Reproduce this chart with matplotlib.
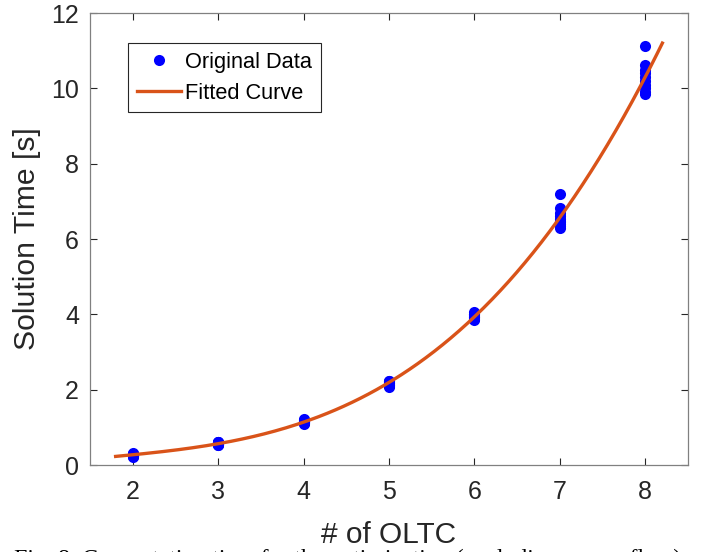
import numpy as np
import matplotlib
matplotlib.use("Agg")
import matplotlib.pyplot as plt


# number of OLTC units in each test case
n_oltc = [2, 3, 4, 5, 6, 7, 8]

# solution times of the repeated runs [s], one list per case
times_2 = [0.22, 0.25, 0.27, 0.30, 0.32, 0.24, 0.28, 0.26, 0.29, 0.23]
times_3 = [0.53, 0.55, 0.57, 0.60, 0.62, 0.56, 0.58, 0.54, 0.59, 0.61]
times_4 = [1.10, 1.13, 1.15, 1.18, 1.22, 1.12, 1.16, 1.20, 1.14, 1.11]
times_5 = [2.08, 2.12, 2.15, 2.20, 2.24, 2.10, 2.17, 2.13, 2.22, 2.18]
times_6 = [3.85, 3.90, 3.95, 4.00, 4.05, 3.88, 3.92, 3.97, 4.02, 3.93]
times_7 = [7.19, 6.82, 6.70, 6.60, 6.52, 6.45, 6.40, 6.35, 6.30, 6.48]
times_8 = [11.13, 10.62, 10.50, 10.40, 10.30, 10.20, 10.10, 10.00, 9.90, 9.84]

# range of the fitted curve
fit_range = (1.8, 8.2)

caption = "Fig. 8. Computation time for the optimization (excluding power flow)."


def main():
    plt.rcParams['font.family'] = ['Liberation Sans', 'DejaVu Sans']
    all_times = [times_2, times_3, times_4, times_5, times_6, times_7, times_8]

    x_data = np.concatenate([[n] * len(t) for n, t in zip(n_oltc, all_times)])
    y_data = np.concatenate(all_times)

    # cubic least squares fit through all runs
    coeffs = np.polyfit(x_data, y_data, 3)
    x_fit = np.linspace(fit_range[0], fit_range[1], 200)
    y_fit = np.polyval(coeffs, x_fit)

    fig = plt.figure(figsize=(7.12, 5.52), dpi=100)
    ax = fig.add_axes([0.1264, 0.1576, 0.8399, 0.8188])

    ax.plot(x_data, y_data, 'o', color='#0000ff', markersize=8,
            markeredgewidth=0, label='Original Data', zorder=2)
    ax.plot(x_fit, y_fit, '-', color='#d95319', linewidth=2.4,
            label='Fitted Curve', zorder=3)

    ax.set_xlim(1.5, 8.5)
    ax.set_ylim(0, 12)
    ax.set_xticks(n_oltc)
    ax.set_yticks([0, 2, 4, 6, 8, 10, 12])

    for side in ['left', 'right', 'top', 'bottom']:
        ax.spines[side].set_color('#808080')
        ax.spines[side].set_linewidth(0.9)
    ax.tick_params(direction='in', top=True, right=True, length=5, width=0.8,
                   color='#262626', labelcolor='#262626', labelsize=18)
    ax.tick_params(axis='x', pad=11)
    ax.tick_params(axis='y', pad=8)

    ax.set_xlabel('# of OLTC', fontsize=21.5, color='#262626', labelpad=12)
    ax.set_ylabel('Solution Time [s]', fontsize=21.7, color='#262626', labelpad=7)

    leg = ax.legend(loc='upper left', bbox_to_anchor=(0.064, 0.934), borderaxespad=0,
                    fontsize=15.7, handlelength=2.0, handletextpad=0.2, borderpad=0.4,
                    labelspacing=0.46, fancybox=False, framealpha=1, edgecolor='#262626')
    leg.get_frame().set_linewidth(0.8)

    fig.text(0.02, -0.024, caption, fontsize=17.2, family='Liberation Serif',
             color='black', va='baseline', ha='left')

    fig.savefig('out.png', dpi=100)
    plt.close(fig)


if __name__ == '__main__':
    main()
